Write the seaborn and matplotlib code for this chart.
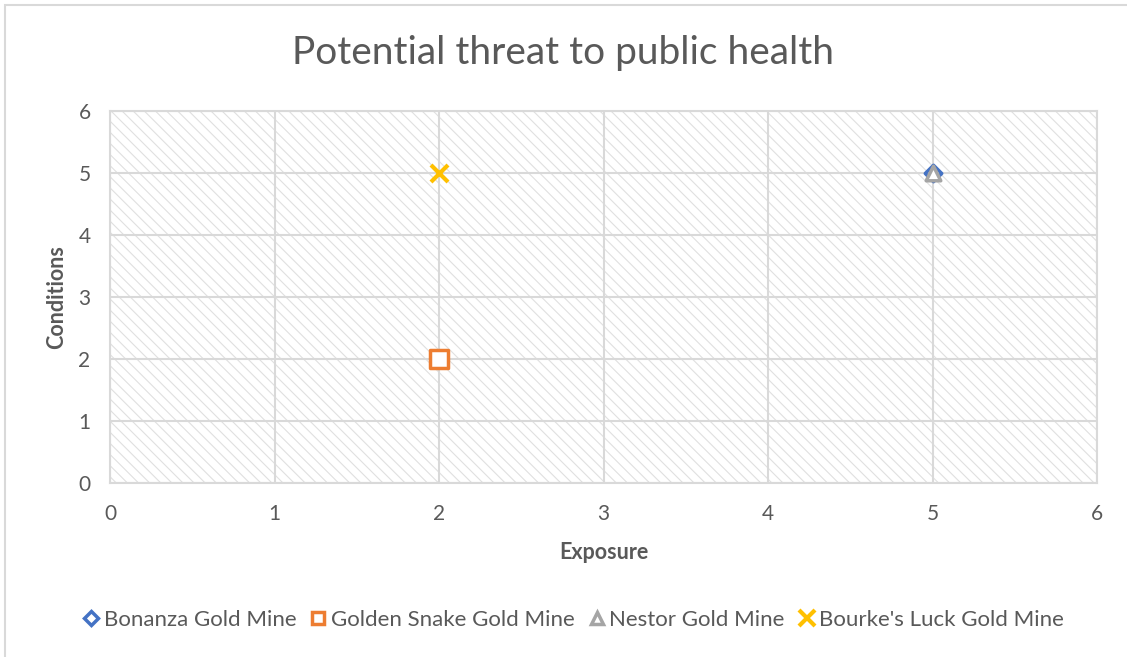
import matplotlib
matplotlib.use("Agg")
import matplotlib.pyplot as plt
from matplotlib.patches import Rectangle
from matplotlib.lines import Line2D
import seaborn as sns

# Mine scores: exposure (x) vs. conditions (y)
mines = ["Bonanza Gold Mine", "Golden Snake Gold Mine", "Nestor Gold Mine", "Bourke's Luck Gold Mine"]
exposure = [5, 2, 5, 2]
conditions = [5, 2, 5, 5]
colors = ["#4472C4", "#ED7D31", "#A5A5A5", "#FFC000"]
markers = ["D", "s", "^", "x"]
sizes = [70, 150, 110, 150]

ticks = [0, 1, 2, 3, 4, 5, 6]
text_col = "#595959"
grid_col = "#D9D9D9"

sns.set_theme(style="white")
plt.rcParams["font.family"] = ["Lato", "DejaVu Sans"]
plt.rcParams["hatch.linewidth"] = 0.8

fig = plt.figure(figsize=(11.27, 6.57), dpi=100)
ax = fig.add_axes([110 / 1127, 1 - 483 / 657, 987 / 1127, 372 / 657])

# Outer chart border
fig.add_artist(Rectangle((4.5 / 1127, -0.1), 1.2, 1 - 4.5 / 657 + 0.1,
                         transform=fig.transFigure, fill=False,
                         edgecolor=grid_col, linewidth=1.5, zorder=0))

# Hatched plot area
ax.set_facecolor("white")
ax.add_patch(Rectangle((0, 0), 6, 6, facecolor="white", edgecolor="#E0E0E0",
                       linewidth=0, hatch="\\\\\\", zorder=0))

for name, x, y, c, m, s in zip(mines, exposure, conditions, colors, markers, sizes):
    if m == "x":
        sns.scatterplot(x=[x], y=[y], ax=ax, marker=m, s=s, color=c,
                        linewidth=3.0, zorder=3, legend=False)
    else:
        sns.scatterplot(x=[x], y=[y], ax=ax, marker=m, s=s, color=c,
                        facecolor="white", edgecolor=c, linewidth=2.5,
                        zorder=3, legend=False)

ax.set_xlim(0, 6)
ax.set_ylim(0, 6)
ax.set_xticks(ticks)
ax.set_yticks(ticks)
ax.grid(True, color=grid_col, linewidth=1.5, zorder=1)
for sp in ax.spines.values():
    sp.set_color(grid_col)
    sp.set_linewidth(1.5)
ax.tick_params(axis="x", length=0, labelsize=15, colors=text_col, pad=15)
ax.tick_params(axis="y", length=0, labelsize=15, colors=text_col, pad=14)

ax.set_xlabel("Exposure", fontsize=15.5, fontweight="bold", color=text_col, labelpad=13)
ax.set_ylabel("Conditions", fontsize=15.5, fontweight="bold", color=text_col, labelpad=8)

fig.suptitle("Potential threat to public health", y=1 - 53 / 657, va="center",
             fontsize=28, color=text_col)

handles = []
for name, c, m in zip(mines, colors, markers):
    if m == "x":
        h = Line2D([], [], linestyle="none", marker=m, markersize=11,
                   markeredgecolor=c, markeredgewidth=3, label=name)
    else:
        h = Line2D([], [], linestyle="none", marker=m,
                   markersize=9 if m != "D" else 7.5,
                   markerfacecolor="white", markeredgecolor=c,
                   markeredgewidth=2.5, label=name)
    handles.append(h)
fig.legend(handles=handles, loc="center", bbox_to_anchor=(0.508, 1 - 620 / 657),
           ncol=4, frameon=False, fontsize=16, labelcolor=text_col,
           handletextpad=0.1, columnspacing=0.55, handlelength=0.9)

fig.savefig("out.png", dpi=100)
